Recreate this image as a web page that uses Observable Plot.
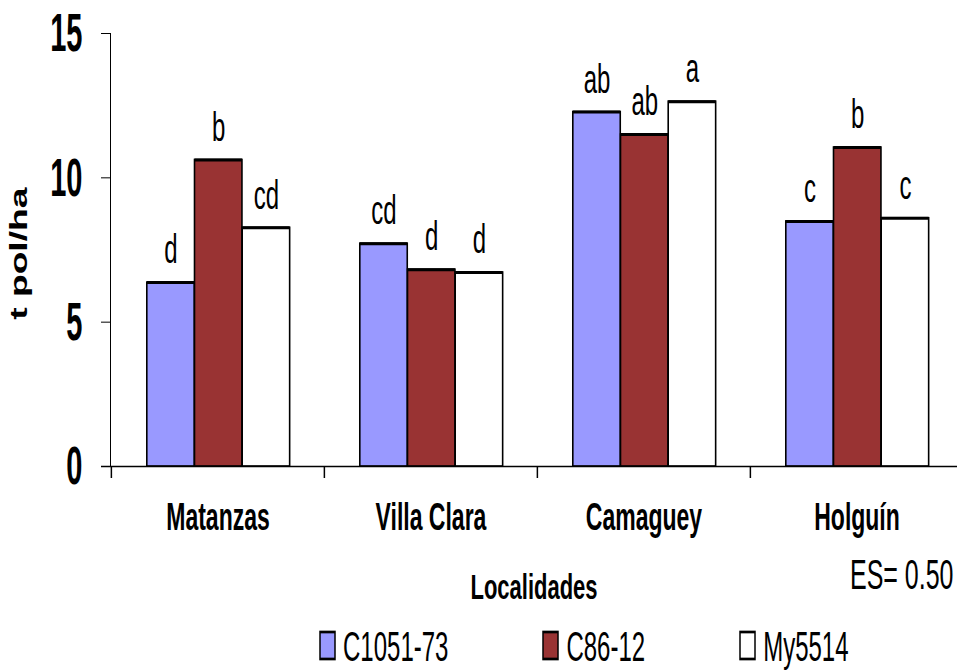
<!DOCTYPE html>
<html>
<head>
<meta charset="utf-8">
<script src="https://cdn.jsdelivr.net/npm/d3@7"></script>
<script src="https://cdn.jsdelivr.net/npm/@observablehq/plot@0.6"></script>
<style>
  html, body { margin: 0; padding: 0; background: #fff; }
  #wrap { position: relative; width: 957px; height: 670px; overflow: hidden; font-family: "Liberation Sans", Arial, sans-serif; }
  #leyenda { position: absolute; left: 320px; top: 635px; height: 21px; transform: scaleY(1.8); transform-origin: 0 50%; }
  .leyenda-swatches { font-family: "Liberation Sans", Arial, sans-serif !important; font-size: 24px !important; line-height: 21px !important; color: #000; margin: 0 !important; }
  .leyenda-swatches-wrap { min-height: 21px !important; height: 21px; }
  .leyenda-swatches-wrap .leyenda-swatch { margin-right: 95px !important; }
  .leyenda-swatch > svg { margin-right: 8px !important; }
  .leyenda-swatch rect { stroke: #000; stroke-width: 1.5px; }
</style>
</head>
<body>
<div id="wrap"><div id="leyenda"></div></div>
<script>
// Rendimiento (t pol/ha) de tres variedades en cuatro localidades
const localidades = ["Matanzas", "Villa Clara", "Camaguey", "Holguín"];
const variedades = ["C1051-73", "C86-12", "My5514"];
const c1051_73 = [6.37, 7.72, 12.28, 8.49];
const c86_12 = [10.62, 6.82, 11.50, 11.05];
const my5514 = [8.27, 6.72, 12.64, 8.60];
const letrasC1051_73 = ["d", "cd", "ab", "c"];
const letrasC86_12 = ["b", "d", "ab", "b"];
const letrasMy5514 = ["cd", "d", "a", "c"];
const yTicks = [0, 5, 10, 15];
const colores = ["#9999ff", "#993333", "#ffffff"];
const tituloY = "t pol/ha";
const tituloX = "Localidades";
const notaES = "ES= 0.50";

const series = [c1051_73, c86_12, my5514];
const letras = [letrasC1051_73, letrasC86_12, letrasMy5514];
const filas = localidades.flatMap((loc, j) =>
  variedades.map((v, i) => ({loc, variedad: v, i, valor: series[i][j], letra: letras[i][j]}))
);

// geometry of the grouped bars inside each locality band
const W = 957, H = 620;
const xRange = [110, 963];
const bw = (xRange[1] - xRange[0]) / localidades.length;
const barW = 47.7;
const off = 35.8;
const FONT = "Liberation Sans, Arial, sans-serif";
const inset = i => ({insetLeft: off + i * barW, insetRight: bw - off - (i + 1) * barW});

const barras = variedades.flatMap((v, i) => {
  const datos = filas.filter(d => d.variedad === v);
  return [
    Plot.barY(datos, {x: "loc", y: "valor", fill: "variedad", stroke: "#000", strokeWidth: 1.6, ...inset(i)}),
    // heavier top edge of each bar
    Plot.tickY(datos, {x: "loc", y: "valor", stroke: "#000", strokeWidth: 3, ...inset(i)})
  ];
});

// text marks, each with the horizontal / vertical stretch of its lettering
const textos = [];
function texto(data, options, sx, sy) {
  textos.push([sx, sy]);
  return Plot.text(data, {fill: "#000", ...options});
}

const etiquetas = variedades.map((v, i) =>
  texto(filas.filter(d => d.variedad === v), {
    x: "loc", y: "valor", text: "letra",
    dx: off + (i + 0.5) * barW - bw / 2, dy: -33, fontSize: 24
  }, 1, 1.72)
);

const chart = Plot.plot({
  width: W, height: H,
  marginTop: 33, marginBottom: H - 466, marginLeft: 110, marginRight: 0,
  style: {fontFamily: FONT, color: "#000", background: "#fff"},
  x: {domain: localidades, range: xRange, padding: 0, axis: null},
  y: {domain: [0, 15], ticks: yTicks, tickSize: 9, tickFormat: () => "", line: true, label: null},
  color: {domain: variedades, range: colores},
  marks: [
    ...barras,
    Plot.ruleY([0], {stroke: "#000", strokeWidth: 1.5, insetLeft: -9}),
    // ticks at the boundaries between localities
    Plot.ruleX(localidades, {x: d => d, dx: -bw / 2, stroke: "#000", strokeWidth: 1.5, insetTop: 433, insetBottom: -12}),
    ...etiquetas,
    texto(localidades, {x: d => d, frameAnchor: "bottom", dy: 58, fontSize: 23, fontWeight: "bold"}, 1, 1.68),
    texto(yTicks, {y: d => d, frameAnchor: "left", dx: -28, textAnchor: "end", fontSize: 29, fontWeight: "bold"}, 1, 1.84),
    texto([tituloY], {frameAnchor: "left", dx: -91, dy: 3.5, rotate: -90, textAnchor: "middle", fontSize: 24, fontWeight: "bold"}, 1.55, 1),
    texto([tituloX], {frameAnchor: "bottom", dy: 128.5, fontSize: 22, fontWeight: "bold"}, 1, 1.59),
    texto([notaES], {frameAnchor: "bottom-right", dx: -4, dy: 116, textAnchor: "end", fontSize: 25}, 1, 1.68)
  ]
});

const wrap = document.getElementById("wrap");
wrap.insertBefore(chart, wrap.firstChild);

// tall, narrow lettering: stretch each label about its own centre
const grupos = chart.querySelectorAll('g[aria-label="text"]');
grupos.forEach((g, k) => {
  const [sx, sy] = textos[k] || [1, 1];
  g.querySelectorAll("text").forEach(t => {
    const b = t.getBBox();
    const cx = b.x + b.width / 2, cy = b.y + b.height / 2;
    const tr = t.getAttribute("transform") || "";
    t.setAttribute("transform", `${tr} translate(${cx},${cy}) scale(${sx},${sy}) translate(${-cx},${-cy})`);
  });
});

const leyenda = chart.legend("color", {className: "leyenda", swatchSize: 15});
document.getElementById("leyenda").appendChild(leyenda);
</script>
</body>
</html>
